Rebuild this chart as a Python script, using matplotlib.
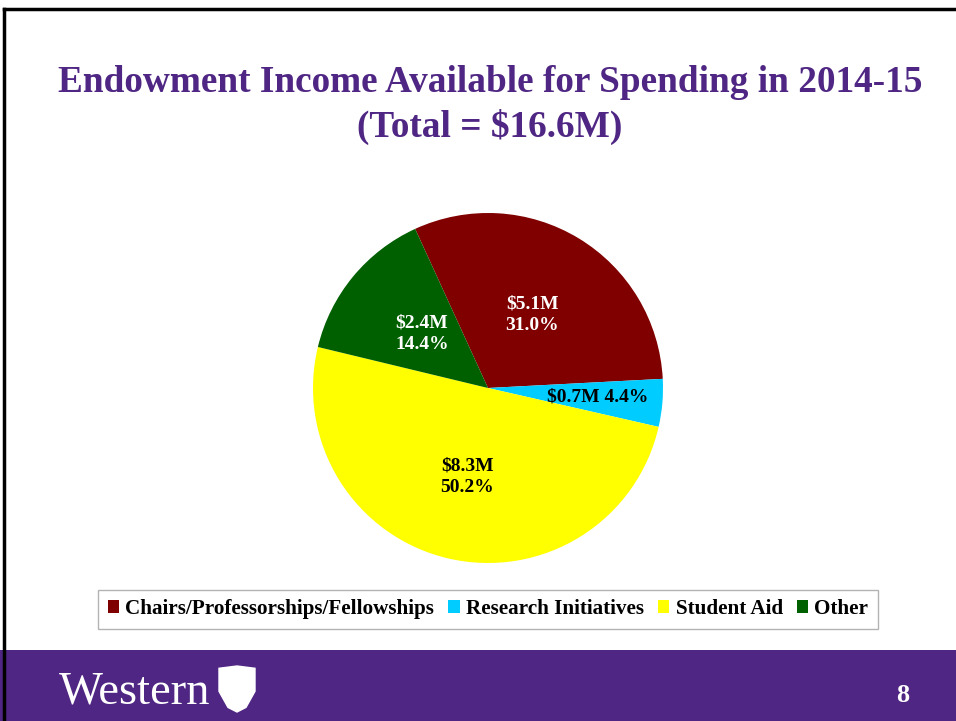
import matplotlib.pyplot as plt
import numpy as np
from matplotlib.patches import Rectangle, Polygon

plt.rcParams["font.family"] = ["Liberation Serif", "DejaVu Serif"]

# data
categories = ["Chairs/Professorships/Fellowships", "Research Initiatives", "Student Aid", "Other"]
amounts = ["$5.1M", "$0.7M", "$8.3M", "$2.4M"]
percents = [31.0, 4.4, 50.2, 14.4]
colors = ["#800000", "#00CCFF", "#FFFF00", "#006000"]
label_colors = ["white", "black", "black", "white"]

purple = "#4F2683"

fig = plt.figure(figsize=(9.56, 7.21), dpi=100)

# slide frame
fig.add_artist(Rectangle((0, 0), 1, 71 / 721, transform=fig.transFigure,
                         facecolor=purple, edgecolor="none", zorder=0))
fig.add_artist(plt.Line2D([4 / 956, 4 / 956], [0, 1 - 9 / 721], transform=fig.transFigure,
                          color="black", lw=2.5))
fig.add_artist(plt.Line2D([4 / 956, 1], [1 - 9 / 721, 1 - 9 / 721], transform=fig.transFigure,
                          color="black", lw=2.5))

# title
fig.text(490 / 956, 1 - 105 / 721, "Endowment Income Available for Spending in 2014-15\n(Total = $16.6M)",
         ha="center", va="center", fontsize=26.8, fontweight="bold", color=purple, linespacing=1.3)

# pie
r = 175
cx, cy = 488, 388
ax = fig.add_axes([(cx - r) / 956, 1 - (cy + r) / 721, 2 * r / 956, 2 * r / 721])
wedges, _ = ax.pie(percents, colors=colors, startangle=114.6, counterclock=False,
                   radius=1, wedgeprops=dict(linewidth=0))
ax.set_xlim(-1, 1)
ax.set_ylim(-1, 1)
ax.set_aspect("auto")

label_r = [0.49, 0.63, 0.52, 0.49]
for w, amt, pct, lc, lr in zip(wedges, amounts, percents, label_colors, label_r):
    mid = np.deg2rad((w.theta1 + w.theta2) / 2)
    sep = " " if pct < 5 else "\n"
    ax.text(lr * np.cos(mid), lr * np.sin(mid), f"{amt}{sep}{pct:.1f}%", ha="center", va="center",
            fontsize=14, fontweight="bold", color=lc, linespacing=1.35)

# legend
leg = fig.legend(wedges, categories, loc="center", bbox_to_anchor=(488 / 956, 1 - 609 / 721),
                 ncol=4, frameon=True, fancybox=False, edgecolor="#A0A0A0",
                 prop=dict(weight="bold", size=15.2), handlelength=0.55, handleheight=0.55,
                 handletextpad=0.3, columnspacing=0.65, borderpad=0.45)
leg.get_frame().set_linewidth(1)

# footer
fig.text(59 / 956, 1 - 703 / 721, "Western", ha="left", va="baseline", fontsize=33.5, color="white")
sx, sy = 237 / 956, 1 - 689 / 721
sw, sh = 18 / 956, 23 / 721
shield = Polygon([(sx - sw, sy + sh * 0.9), (sx, sy + sh), (sx + sw, sy + sh * 0.9),
                  (sx + sw, sy - 0.1 * sh), (sx + 0.5 * sw, sy - 0.8 * sh), (sx, sy - sh),
                  (sx - 0.5 * sw, sy - 0.8 * sh), (sx - sw, sy - 0.1 * sh)], closed=True,
                 transform=fig.transFigure, facecolor="white", edgecolor="white")
fig.add_artist(shield)
fig.text(903 / 956, 1 - 695 / 721, "8", ha="center", va="center", fontsize=19,
         fontweight="bold", color="white")

fig.savefig("out.png", dpi=100, facecolor="white")
